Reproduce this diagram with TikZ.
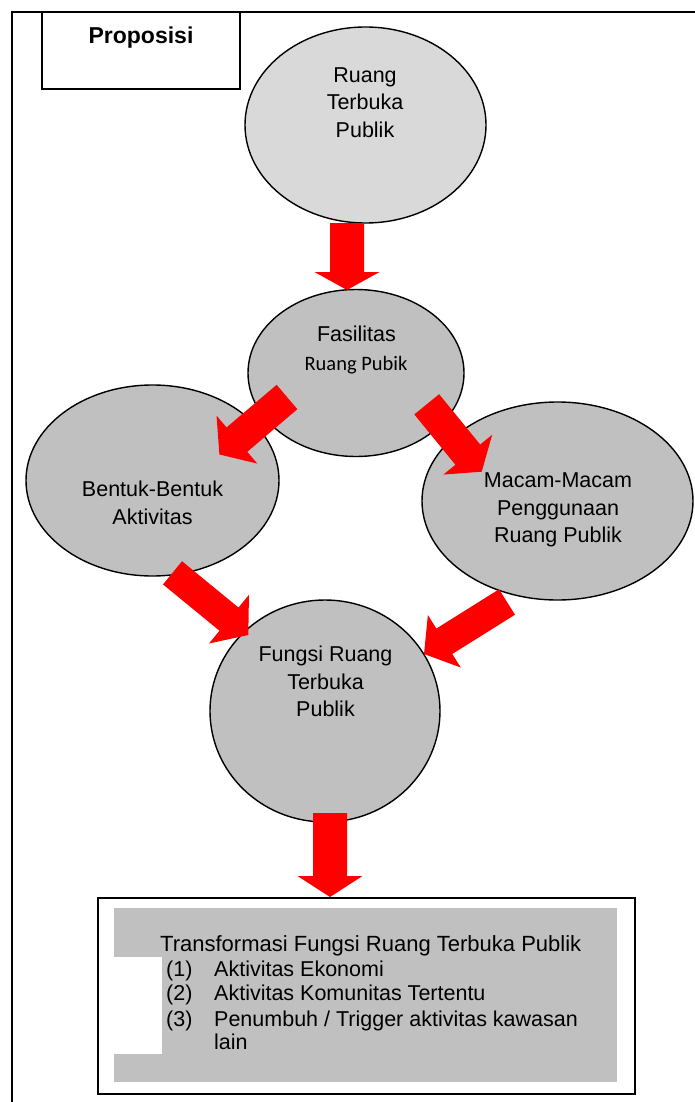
\documentclass[tikz,border=0pt]{standalone}
\usepackage{fontspec}
\setmainfont{Liberation Sans}
\newfontfamily\calibrifont{Carlito}
\usetikzlibrary{calc,shapes.geometric}
\definecolor{midgray}{HTML}{C0C0C0}
\definecolor{lightgray}{HTML}{D9D9D9}
\definecolor{arrowred}{HTML}{FF0000}
\tikzset{
  ell/.style={ellipse, draw=black, line width=1.4pt, fill=midgray, inner sep=0pt},
  txt/.style={inner sep=0pt, anchor=base, font=\fontsize{21.5}{26}\selectfont},
  txtw/.style={inner sep=0pt, anchor=base west, font=\fontsize{21.5}{26}\selectfont},
}
% \blockarrow{start}{tip}{half shaft}{half head}{head length}
\newcommand{\blockarrow}[5]{%
  \coordinate (#1-#2-b) at ($(#2)!#5!(#1)$);
  \fill[arrowred]
    ($(#1)!#3!90:(#2)$) --
    ($(#1-#2-b)!#3!-90:(#1)$) --
    ($(#1-#2-b)!#4!-90:(#1)$) --
    (#2) --
    ($(#1-#2-b)!#4!90:(#1)$) --
    ($(#1-#2-b)!#3!90:(#1)$) --
    ($(#1)!#3!-90:(#2)$) -- cycle;
}
\begin{document}
\begin{tikzpicture}[x=1pt,y=-1pt]
\useasboundingbox (0,0) rectangle (695,1102);
% outer frame
\draw[line width=2pt] (12,1110) -- (12,12) -- (700,12);
% Proposisi box
\draw[line width=1.3pt] (42,12) -- (42,89) -- (240,89) -- (240,12);
\node[inner sep=0pt, anchor=base, font=\fontsize{23}{26}\selectfont\bfseries] (prop) at (141,43.3) {Proposisi};

% ellipses
\node[ell, fill=lightgray, minimum width=241pt, minimum height=196pt] (e1) at (365.5,125) {};
\node[ell, minimum width=253pt, minimum height=191pt] (e3) at (152.5,480.5) {};
\node[ell, minimum width=271pt, minimum height=198pt] (e4) at (557.5,501) {};
\node[ell, minimum width=216pt, minimum height=167pt] (e2) at (356,373) {};
\node[ell, minimum width=230pt, minimum height=222pt] (e5) at (325,711) {};

% ellipse texts
\node[txt] (t1a) at (365,82.7) {Ruang};
\node[txt] (t1b) at (365,110) {Terbuka};
\node[txt] (t1c) at (365,137.7) {Publik};
\node[txt] (t2a) at (356.5,341) {Fasilitas};
\node[txt, font=\fontsize{20.5}{24}\calibrifont] (t2b) at (356,370) {Ruang Pubik};
\node[txt] (t3a) at (152.5,496.7) {Bentuk-Bentuk};
\node[txt] (t3b) at (152.5,524.3) {Aktivitas};
\node[txt] (t4a) at (558,487.3) {Macam-Macam};
\node[txt] (t4b) at (558,515) {Penggunaan};
\node[txt] (t4c) at (558,542.7) {Ruang Publik};
\node[txt] (t5a) at (325.5,661.7) {Fungsi Ruang};
\node[txt] (t5b) at (325.5,689) {Terbuka};
\node[txt] (t5c) at (325.5,716.5) {Publik};

% bottom box
\node[draw=black, line width=1.8pt, minimum width=537pt, minimum height=196pt, inner sep=0pt, anchor=north west] (box) at (97,897) {};
\fill[midgray] (114,908) rectangle (617,1082);
\fill[white] (114,957) rectangle (162,1054);
\node[txtw, font=\fontsize{22}{26}\selectfont] (bt0) at (160,951.7) {Transformasi Fungsi Ruang Terbuka Publik};
\node[txtw] (bn1) at (166,976.7) {(1)};
\node[txtw] (bi1) at (214,976.7) {Aktivitas Ekonomi};
\node[txtw] (bn2) at (166,1000.5) {(2)};
\node[txtw] (bi2) at (214,1000.5) {Aktivitas Komunitas Tertentu};
\node[txtw] (bn3) at (166,1026.5) {(3)};
\node[txtw] (bi3) at (214,1026.5) {Penumbuh / Trigger aktivitas kawasan};
\node[txtw] (bi3b) at (214,1049) {lain};

% arrows
\coordinate (a1s) at (347,223);   \coordinate (a1t) at (347,290);
\coordinate (a2s) at (287,397);   \coordinate (a2t) at (219.4,454.5);
\coordinate (a3s) at (426.7,404.3); \coordinate (a3t) at (481.7,471.7);
\coordinate (a4s) at (172.5,572.8); \coordinate (a4t) at (248.3,635);
\coordinate (a5s) at (507,602);   \coordinate (a5t) at (424,654);
\coordinate (a6s) at (330,813);   \coordinate (a6t) at (330,897);
\blockarrow{a1s}{a1t}{17pt}{32.5pt}{18pt}
\blockarrow{a2s}{a2t}{16pt}{31.5pt}{23pt}
\blockarrow{a3s}{a3t}{16pt}{31.5pt}{22pt}
\blockarrow{a4s}{a4t}{15pt}{31.5pt}{25pt}
\blockarrow{a5s}{a5t}{15pt}{31pt}{24pt}
\blockarrow{a6s}{a6t}{17pt}{32.5pt}{21pt}
\end{tikzpicture}
\end{document}
